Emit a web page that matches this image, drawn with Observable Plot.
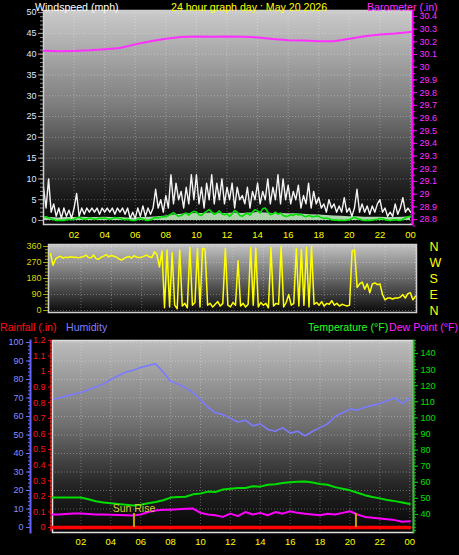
<!DOCTYPE html>
<html><head><meta charset="utf-8">
<script src="https://cdn.jsdelivr.net/npm/d3@7"></script>
<script src="https://cdn.jsdelivr.net/npm/@observablehq/plot@0.6"></script>
<style>
html,body{margin:0;padding:0;background:#000;}
#chart{position:relative;width:459px;height:555px;background:#000;overflow:hidden;font-family:"Liberation Sans",Arial,sans-serif;}
#chart svg{position:absolute;left:0;}
.t{position:absolute;font-size:10.6px;white-space:nowrap;line-height:10px;}
</style></head><body><div id="chart"></div>
<script>
// ---------- DATA ----------
const hourTicks = [2,4,6,8,10,12,14,16,18,20,22,24];
const hourTickLabels = ["02","04","06","08","10","12","14","16","18","20","22","00"];

const windTicks = [0,5,10,15,20,25,30,35,40,45,50];
const baroTicks = [28.8,28.9,29,29.1,29.2,29.3,29.4,29.5,29.6,29.7,29.8,29.9,30,30.1,30.2,30.3,30.4];
const dirTicks = [0,90,180,270,360];
const compassLabels = ["N","E","S","W","N"];
const humTicks = [0,10,20,30,40,50,60,70,80,90,100];
const rainTicks = [0,0.1,0.2,0.3,0.4,0.5,0.6,0.7,0.8,0.9,1,1.1,1.2];
const tempTicks = [40,50,60,70,80,90,100,110,120,130,140];

// 10-minute samples, 00:00 .. 24:00
const windGust = [8,3,10,2,4,1,3,0.5,3,1,2.5,0.5,
 3,6.5,1,3,1.5,3,2,3,2,3,1.5,3,
 2,3,2,3,1.5,3,2,3,1.5,3,0.5,2,
 0.5,3,1,3.5,1,3,1.5,3,7.5,3,5,2,
 6,3,11,4,9,5,7,3,8,4,11,5,
 11,4,8,3,9,5,11,4,9,5,10,4,
 8,5,9,3,8,5,6,4,8,3,7,5,
 9,4,7,5,10,4,8,5,11,4,10,5,
 8.5,4,7,5,8.5,3,6,4,9,3,7,4,
 5.5,3,4,2,5,3,4,2,3.5,2,5.5,2,
 3,1,3,7.5,2,4,2,3.5,1.5,3.5,2,4,
 5,2,3,1,2,1,4,1.5,3,5.5,2,3,2];
const windAvg = [0.8,0.9,0.6,0.4,0.2,0,0,0.1,0,0.2,0.3,0.2,
 0.3,0.6,0.8,0.5,0.3,0.4,0.6,0.5,0.3,0.4,0.6,0.5,
 0.6,0.4,0.3,0.5,0.7,0.6,0.5,0.3,0.2,0.3,0.1,0,
 0,0.3,0.5,0.3,0.1,0,0.2,0.5,0.7,0.6,0.8,0.9,
 0.9,1.2,1.5,1.9,1.4,1,1.2,1.6,1.8,1.3,1.9,2.2,
 2,1.4,1.2,1.8,2.2,2.6,2,1.5,1.8,2.3,1.6,1.4,
 1.6,1,1.6,2.4,2,1.2,1,1.5,1.8,1.3,2,2.6,
 2.3,1.8,2.8,3,2,1.4,1.6,2,1.5,1.8,1.2,1,
 1.1,1.4,1.2,1.6,1.3,1.5,1.1,0.9,1.2,1,0.9,1.1,
 1,0.7,0.5,0.6,0.4,0.2,0.1,0.1,0,0.1,0,0.1,
 0.2,0.5,0.8,0.5,0.3,0.1,0,0.1,0,0.1,0.2,0.3,
 0.5,0.4,0.2,0.1,0,0.1,0.2,0.1,0,0.3,0.6,0.9,1];
const windDir = [320,255,290,300,305,295,300,298,302,300,300,296,
 300,303,312,298,296,312,292,288,300,306,314,302,
 310,305,300,290,284,292,300,304,295,308,300,298,
 300,306,312,302,298,330,315,245,335,15,340,20,
 325,30,10,340,25,40,15,355,30,45,350,20,
 350,345,30,40,20,35,50,25,40,350,30,20,
 45,30,280,25,40,20,35,355,30,350,20,45,
 30,40,15,355,25,40,35,360,20,45,90,30,
 40,350,25,345,30,355,20,360,35,45,30,50,
 25,40,35,55,30,40,25,35,30,25,30,335,
 340,130,150,160,120,150,100,150,155,145,150,90,
 60,70,70,65,70,70,75,90,70,95,100,60,80];

// half-hour samples, 00:00 .. 24:00
const windBase = [0.8,0.7,0.6,0.7,0.7,0.8,0.7,0.7,0.8,0.7,0.7,0.6,0.6,0.7,0.8,0.9,
 1.1,1.3,1.5,1.6,1.7,1.7,1.8,1.7,1.7,1.8,1.7,1.8,1.9,1.8,1.7,1.7,1.6,1.6,1.5,1.4,
 1.3,1.2,1.1,1.0,0.9,0.9,0.8,0.8,0.8,0.7,0.7,0.8,0.9];
const humidity = [69,70,71,72,73,74.5,76,77.5,80,82,84,85,86.5,87.5,88.5,84,79,77.5,75.5,73,
 69,65,62,61,59,57,58,55,56,53,52,54,51,52,49.5,52,54,56,60,62,64,63.5,65,66,67,68.5,70,67,70];
const temperature = [50.5,50.5,50.5,50.5,50.5,49.5,48.2,47.5,47,46.5,46,45.6,46,47,47.8,48.8,
 50.5,50.8,51,52.5,53,54.2,54,55.5,56,56.5,56.5,57.5,57.3,58.5,58.8,59.5,60,60.3,60.5,59.8,
 59,58.5,57,56,55,53.5,52,50.8,50,49,48.3,47.5,46.5];
const dewPoint = [40,40,40.3,40.6,40.6,40.3,40,40,39.8,39.6,39.5,39.4,40,41.5,42.5,43,43,43.2,43.5,43.7,
 41,40,39.5,38.5,40.5,39,41.5,40,41,39.5,41.5,40.5,42,41,40.5,40,39.5,40.5,40,41,
 42,40,38.5,38,37.5,37,36.5,35.5,35.8];

// hourly samples
const barometer = [30.13,30.125,30.128,30.133,30.142,30.152,30.18,30.205,30.225,30.238,30.242,30.24,30.242,
 30.24,30.235,30.222,30.213,30.21,30.205,30.205,30.225,30.245,30.258,30.265,30.278];
const rainfall = [0,0,0,0,0,0,0,0,0,0,0,0,0,0,0,0,0,0,0,0,0,0,0,0,0];

const sunTimes = [5.55, 20.4];
const sunLabels = ["Sun Rise", ""];

// ---------- TABLES ----------
const tenMin = windGust.map((_, i) => i / 6);
const halfHour = humidity.map((_, i) => i / 2);
const hourly = barometer.map((_, i) => i);
const windTable = tenMin.map((h, i) => ({h, gust: windGust[i], avg: windAvg[i], dir: windDir[i]}));
const halfTable = halfHour.map((h, i) => ({h, base: windBase[i], hum: humidity[i], temp: temperature[i], dew: dewPoint[i]}));
const hourTable = hourly.map((h, i) => ({h, baro: barometer[i], rain: rainfall[i]}));
const sunTable = sunTimes.map((h, i) => ({h, label: sunLabels[i]})).filter(d => d.label);
const sunRules = sunTimes.map(h => ({h}));

// ---------- HELPERS ----------
const W = 459;
const FONT = '"Liberation Sans Narrow","Arial Narrow","Liberation Sans",Arial,sans-serif';
const chart = document.getElementById("chart");
const fmtHour = d => hourTickLabels[hourTicks.indexOf(d)];

function bg(id, stops) {
  return (index, scales, values, dims) => {
    const ns = "http://www.w3.org/2000/svg";
    const g = document.createElementNS(ns, "g");
    const defs = document.createElementNS(ns, "defs");
    const lg = document.createElementNS(ns, "linearGradient");
    lg.setAttribute("id", id);
    lg.setAttribute("x1", "0"); lg.setAttribute("y1", "0");
    lg.setAttribute("x2", "0"); lg.setAttribute("y2", "1");
    for (const [o, c] of stops) {
      const s = document.createElementNS(ns, "stop");
      s.setAttribute("offset", o); s.setAttribute("stop-color", c);
      lg.appendChild(s);
    }
    defs.appendChild(lg); g.appendChild(defs);
    const r = document.createElementNS(ns, "rect");
    r.setAttribute("x", dims.marginLeft);
    r.setAttribute("y", dims.marginTop);
    r.setAttribute("width", dims.width - dims.marginLeft - dims.marginRight);
    r.setAttribute("height", dims.height - dims.marginTop - dims.marginBottom);
    r.setAttribute("fill", `url(#${id})`);
    g.appendChild(r);
    return g;
  };
}
function add(top, opts) {
  const svg = Plot.plot({width: W, style: {background: "transparent", overflow: "visible", fontFamily: FONT}, ...opts});
  svg.style.top = top + "px";
  chart.appendChild(svg);
}
function title(text, left, top, color) {
  const d = document.createElement("div");
  d.className = "t"; d.textContent = text;
  d.style.left = left + "px"; d.style.top = top + "px"; d.style.color = color;
  chart.appendChild(d);
}
// minor ticks: tick lines only, no text
const minor = (ticks, anchor, stroke, size) => Plot.axisY(ticks, {anchor, tickSize: size, stroke, fill: "none", label: null});
const gridStyle = {stroke: "#ffffff", strokeOpacity: 0.3, strokeDasharray: "1,2"};

// ---------- PANEL 1: wind speed + barometer ----------
const m1 = {height: 245, marginTop: 10, marginBottom: 21, marginLeft: 43, marginRight: 47};
const x1 = {domain: [0, 24.13]};
add(0, {...m1, x: x1, y: {domain: [-0.96, 50.5]},
  marks: [
    bg("g1", [[0, "#cbcbcb"], [0.45, "#7c7c7c"], [0.8, "#262626"], [1, "#050505"]]),
    Plot.gridX(hourTicks, gridStyle),
    Plot.gridY(windTicks, gridStyle),
    Plot.areaY(halfTable, {x: "h", y: "base", fill: "#bfe9bf", fillOpacity: 0.9}),
    Plot.line(windTable, {x: "h", y: "gust", stroke: "#f4f4f4", strokeWidth: 1.4}),
    Plot.line(windTable, {x: "h", y: "avg", stroke: "#00e000", strokeWidth: 1.6}),
    Plot.axisY(windTicks, {anchor: "left", tickSize: 5, tickPadding: 2, fill: "#dce8ff", stroke: "#a8a8a8", fontSize: 9, label: null}),
    minor(d3.range(0, 51, 1), "left", "#909090", 3),
    Plot.axisX(hourTicks, {anchor: "bottom", tickSize: 0, tickPadding: 7, tickFormat: fmtHour, fill: "#ffff00", fontSize: 9.5, label: null}),
    Plot.frame({stroke: "#d0d0d0", strokeWidth: 1.5})
  ]});
add(0, {...m1, x: {...x1, axis: null}, y: {domain: [28.761, 30.447]},
  marks: [
    Plot.line(hourTable, {x: "h", y: "baro", stroke: "#ff30ff", strokeWidth: 2}),
    Plot.axisY(baroTicks, {anchor: "right", tickSize: 4, tickPadding: 3, fill: "#ff30ff", stroke: "#ff00ff", fontSize: 9, label: null, tickFormat: d => String(d)}),
    minor(d3.range(28.75, 30.45, 0.05), "right", "#ff00ff", 2),
    Plot.frame({anchor: "right", stroke: "#ff00ff", strokeWidth: 1.5})
  ]});

// ---------- PANEL 2: wind direction ----------
add(240, {height: 80, marginTop: 4, marginBottom: 8, marginLeft: 48, marginRight: 43,
  x: {domain: [-0.13, 24.07], axis: null}, y: {domain: [-11.25, 371.25]},
  marks: [
    bg("g2", [[0, "#c4c4c4"], [0.5, "#6a6a6a"], [1, "#0a0a0a"]]),
    Plot.gridX(hourTicks, gridStyle),
    Plot.gridY(dirTicks, gridStyle),
    Plot.line(windTable, {x: "h", y: "dir", stroke: "#ffff00", strokeWidth: 1.5}),
    Plot.axisY(dirTicks, {anchor: "left", tickSize: 5, tickPadding: 2, fill: "#d8d800", stroke: "#a0a000", fontSize: 9, label: null}),
    minor(d3.range(0, 361, 18), "left", "#a0a000", 3),
    Plot.axisY(dirTicks, {anchor: "right", tickSize: 0, tickPadding: 13, fill: "#ffff00", fontSize: 12.5, label: null, tickFormat: d => compassLabels[dirTicks.indexOf(d)]}),
    Plot.frame({stroke: "#d0d0d0", strokeWidth: 1.5})
  ]});

// ---------- PANEL 3: humidity, rainfall, temperature, dew point ----------
const m3 = {height: 235, marginTop: 20, marginBottom: 23, marginLeft: 52, marginRight: 46};
const x3 = {domain: [0.1, 24.25]};
const yHum = {domain: [-2.7, 101.08]};
add(320, {...m3, x: x3, y: yHum,
  marks: [
    bg("g3", [[0, "#bdbdbd"], [0.45, "#6e6e6e"], [0.75, "#262626"], [1, "#040404"]]),
    Plot.gridX(hourTicks, gridStyle),
    Plot.gridY(humTicks, gridStyle),
    Plot.line(halfTable, {x: "h", y: "hum", stroke: "#7b7bff", strokeWidth: 1.6, clip: true}),
    Plot.axisX(hourTicks, {anchor: "bottom", tickSize: 0, tickPadding: 6, tickFormat: fmtHour, fill: "#ffff00", fontSize: 9.5, label: null}),
    Plot.frame({stroke: "#e0e0e0", strokeWidth: 1.5})
  ]});
add(320, {...m3, x: {...x3, axis: null}, y: {domain: [28.8, 148.1]},
  marks: [
    Plot.line(halfTable, {x: "h", y: "temp", stroke: "#00dd00", strokeWidth: 2, clip: true}),
    Plot.line(halfTable, {x: "h", y: "dew", stroke: "#ff00ff", strokeWidth: 2, clip: true}),
    Plot.axisY(tempTicks, {anchor: "right", tickSize: 4, tickPadding: 3, fill: "#00e000", stroke: "#00e000", fontSize: 9, label: null}),
    minor(d3.range(30, 149, 2), "right", "#00c000", 2),
    Plot.frame({anchor: "right", stroke: "#00e000", strokeWidth: 1.5})
  ]});
add(320, {...m3, x: {...x3, axis: null}, y: {domain: [-0.032, 1.199]},
  marks: [
    Plot.line(hourTable, {x: "h", y: "rain", stroke: "#ff0000", strokeWidth: 3.5, clip: true}),
    Plot.ruleX(sunRules, {x: "h", y1: 0, y2: 0.09, stroke: "#c8a000", strokeWidth: 2}),
    Plot.text(sunTable, {x: "h", y: 0.09, text: "label", fill: "#d0d030", fontSize: 10.5, lineAnchor: "bottom", dy: -1}),
    Plot.axisY(rainTicks, {anchor: "left", tickSize: 4, tickPadding: 3, fill: "#ff1010", stroke: "#ff0000", fontSize: 9, label: null, tickFormat: d => String(d)}),
    Plot.frame({anchor: "left", stroke: "#ff2020", strokeWidth: 1.5, strokeDasharray: "2,2", dx: -1.5})
  ]});
add(320, {...m3, marginLeft: 30, x: {domain: [0, 1], axis: null}, y: yHum,
  marks: [
    Plot.axisY(humTicks, {anchor: "left", tickSize: 4, tickPadding: 3, fill: "#8c8cff", stroke: "#6c6cff", fontSize: 9, label: null}),
    minor(d3.range(0, 101, 2), "left", "#6c6cff", 2),
    Plot.frame({anchor: "left", stroke: "#6464ff", strokeWidth: 2})
  ]});

// ---------- TITLES ----------
title("Windspeed (mph)", 35, 1.5, "#ffffff");
title("24 hour graph day : May 20 2026", 171, 1.5, "#ffff00");
title("Barometer (.in)", 367, 1.5, "#ff30ff");
title("Rainfall (.in)", 0, 322, "#ff1010");
title("Humidity", 66, 322, "#8080ff");
title("Temperature (°F)", 308, 322, "#20ff20");
title("Dew Point (°F)", 389, 322, "#ff20ff");
</script></body></html>
